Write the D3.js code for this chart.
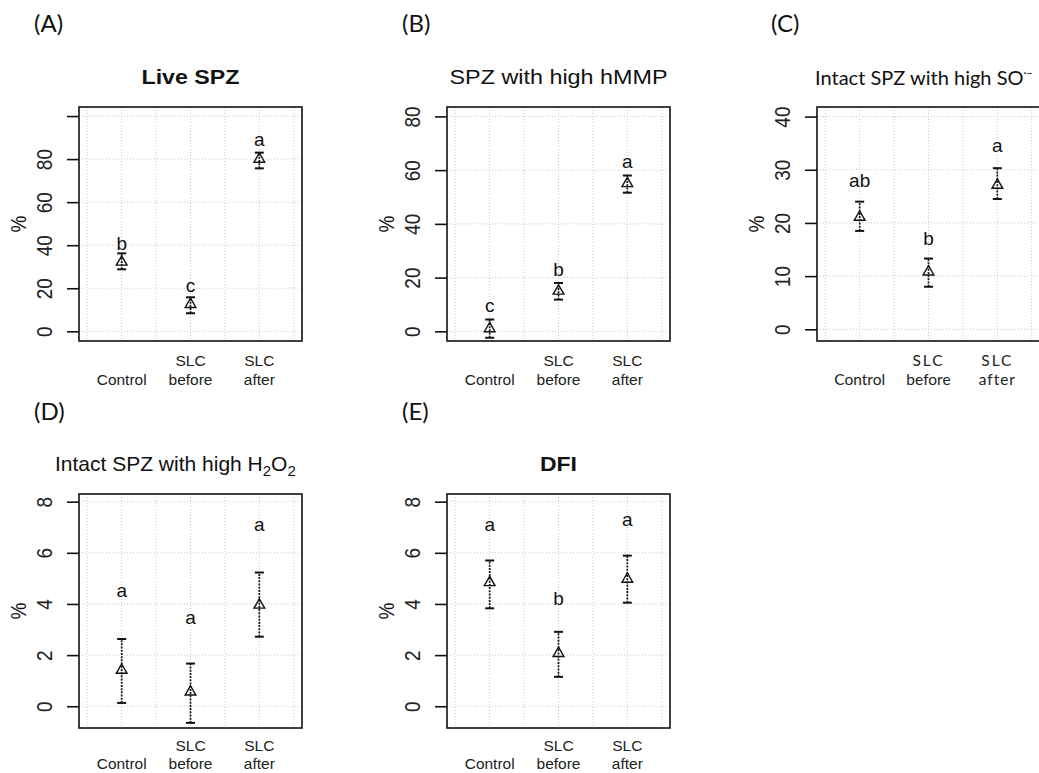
<!DOCTYPE html>
<html>
<head>
<meta charset="utf-8">
<script src="https://cdn.jsdelivr.net/npm/d3@7"></script>
<style>
  body { margin: 0; background: #fff; }
  svg { display: block; }
  text { fill: #111; }
</style>
</head>
<body>
<div id="chart"></div>
<script>
// Categories and x labels (two lines each)
const groups = ["Control", "SLC before", "SLC after"];
const groupLines = [["", "Control"], ["SLC", "before"], ["SLC", "after"]];

// (A) Live SPZ
const liveMean = [32.2, 12.5, 80];
const liveLow = [28.8, 8.4, 75.7];
const liveHigh = [36.2, 15.8, 83];
const liveLetters = ["b", "c", "a"];
const liveLetterY = [38, 18.3, 86];
const liveTicks = [0, 20, 40, 60, 80, 100];
const liveTickLabels = ["0", "20", "40", "60", "80", ""];

// (B) SPZ with high hMMP
const hmmpMean = [1.0, 15, 55];
const hmmpLow = [-2.4, 11.8, 51.6];
const hmmpHigh = [4.4, 18, 58];
const hmmpLetters = ["c", "b", "a"];
const hmmpLetterY = [7.2, 20.5, 60.7];
const hmmpTicks = [0, 20, 40, 60, 80];

// (C) Intact SPZ with high SO
const soMean = [21.1, 10.8, 27.1];
const soLow = [18.5, 8, 24.5];
const soHigh = [24, 13.3, 30.3];
const soLetters = ["ab", "b", "a"];
const soLetterY = [26.8, 15.8, 33.4];
const soTicks = [0, 10, 20, 30, 40];

// (D) Intact SPZ with high H2O2
const h2o2Mean = [1.41, 0.56, 3.96];
const h2o2Low = [0.13, -0.65, 2.72];
const h2o2High = [2.63, 1.67, 5.23];
const h2o2Letters = ["a", "a", "a"];
const h2o2LetterY = [4.28, 3.21, 6.86];
const h2o2Ticks = [0, 2, 4, 6, 8];

// (E) DFI
const dfiMean = [4.84, 2.07, 4.97];
const dfiLow = [3.83, 1.15, 4.05];
const dfiHigh = [5.7, 2.91, 5.89];
const dfiLetters = ["a", "b", "a"];
const dfiLetterY = [6.86, 3.95, 7.05];
const dfiTicks = [0, 2, 4, 6, 8];

const width = 1039, height = 773;
const boxW = 223, boxH = 234;
const sans = "Liberation Sans, Arial, sans-serif";
const gill = "Lato, Open Sans, sans-serif";

const panels = [
  { tag: "(A)", tagX: 34, tagY: 32, left: 79, top: 107, title: "Live SPZ", bold: true, titleLen: 98,
    mean: liveMean, low: liveLow, high: liveHigh, letters: liveLetters, letterY: liveLetterY,
    ticks: liveTicks, tickLabels: liveTickLabels, domain: [-4.5, 104.2] },
  { tag: "(B)", tagX: 402, tagY: 32, left: 447, top: 107, title: "SPZ with high hMMP", titleLen: 218,
    mean: hmmpMean, low: hmmpLow, high: hmmpHigh, letters: hmmpLetters, letterY: hmmpLetterY,
    ticks: hmmpTicks, domain: [-3.6, 83.5] },
  { tag: "(C)", tagX: 771, tagY: 32, left: 817, top: 107, title: "Intact SPZ with high SO", gill: true,
    mean: soMean, low: soLow, high: soHigh, letters: soLetters, letterY: soLetterY,
    ticks: soTicks, domain: [-2.2, 41.8] },
  { tag: "(D)", tagX: 34, tagY: 420, left: 79, top: 494, title: "h2o2", xlab: [23, 41],
    mean: h2o2Mean, low: h2o2Low, high: h2o2High, letters: h2o2Letters, letterY: h2o2LetterY,
    ticks: h2o2Ticks, domain: [-0.85, 8.3] },
  { tag: "(E)", tagX: 402, tagY: 420, left: 447, top: 494, title: "DFI", bold: true, titleLen: 37, xlab: [23, 41],
    mean: dfiMean, low: dfiLow, high: dfiHigh, letters: dfiLetters, letterY: dfiLetterY,
    ticks: dfiTicks, domain: [-0.85, 8.3] }
];

const svg = d3.select("#chart").append("svg")
  .attr("width", width)
  .attr("height", height);

const tri = d3.symbol().type(d3.symbolTriangle).size(50);

panels.forEach(p => {
  const g = svg.append("g");
  const x = d3.scaleLinear().domain([0.38, 3.62]).range([p.left, p.left + boxW]);
  const y = d3.scaleLinear().domain(p.domain).range([p.top + boxH, p.top]);
  const bottom = p.top + boxH;
  const xlab = p.xlab || [24.5, 44];

  // panel tag
  g.append("text")
    .attr("x", p.tagX).attr("y", p.tagY)
    .style("font-family", gill).style("font-size", "24px")
    .text(p.tag);

  // title
  const titleY = p.top - 23;
  if (p.title === "h2o2") {
    const t = g.append("text")
      .attr("x", 55).attr("y", titleY)
      .style("font-family", sans).style("font-size", "21px");
    t.append("tspan").text("Intact SPZ with high H");
    t.append("tspan").attr("dy", 5).style("font-size", "15px").text("2");
    t.append("tspan").attr("dy", -5).text("O");
    t.append("tspan").attr("dy", 5).style("font-size", "15px").text("2");
  } else if (p.gill) {
    const t = g.append("text")
      .attr("x", p.left - 2).attr("y", titleY + 1)
      .style("font-family", gill).style("font-size", "20px");
    t.append("tspan").text(p.title);
    t.append("tspan").attr("dy", -8).style("font-size", "11px").text("·−");
  } else {
    g.append("text")
      .attr("x", p.left + boxW / 2).attr("y", titleY)
      .attr("text-anchor", "middle")
      .attr("textLength", p.titleLen)
      .attr("lengthAdjust", "spacingAndGlyphs")
      .style("font-family", sans)
      .style("font-size", "20px")
      .style("font-weight", p.bold ? "bold" : "normal")
      .text(p.title);
  }

  // grid
  const gx = [0.5, 1, 1.5, 2, 2.5, 3, 3.5];
  g.selectAll(".gv").data(gx).enter().append("line")
    .attr("x1", d => x(d)).attr("x2", d => x(d))
    .attr("y1", p.top).attr("y2", bottom)
    .attr("stroke", "#c8c8c8").attr("stroke-width", 1).attr("stroke-dasharray", "1,2");
  g.selectAll(".gh").data(p.ticks).enter().append("line")
    .attr("x1", p.left).attr("x2", p.left + boxW)
    .attr("y1", d => y(d)).attr("y2", d => y(d))
    .attr("stroke", "#c8c8c8").attr("stroke-width", 1).attr("stroke-dasharray", "1,2");

  // y axis
  const labels = p.tickLabels || p.ticks.map(String);
  const yAxis = d3.axisLeft(y).tickValues(p.ticks).tickSize(12).tickPadding(0)
    .tickFormat((d, i) => labels[i]);
  const ya = g.append("g").attr("transform", `translate(${p.left},0)`).call(yAxis);
  ya.select(".domain").remove();
  ya.selectAll(".tick line").attr("stroke", "#111").attr("stroke-width", 1.6);
  ya.selectAll(".tick text")
    .attr("x", null).attr("dy", null)
    .attr("text-anchor", "middle")
    .attr("transform", "translate(-27,0) rotate(-90) scale(1,1.15)")
    .attr("y", 0)
    .style("font-family", sans).style("font-size", "19px").style("fill", "#222");

  // % label
  g.append("text")
    .attr("transform", `translate(${p.left - 53},${p.top + boxH / 2}) rotate(-90) scale(1,1.15)`)
    .attr("text-anchor", "middle")
    .style("font-family", sans).style("font-size", "19px")
    .text("%");

  // box
  g.append("rect")
    .attr("x", p.left).attr("y", p.top)
    .attr("width", boxW).attr("height", boxH)
    .attr("fill", "none").attr("stroke", "#111").attr("stroke-width", 1.6);

  // x labels
  groupLines.forEach((lines, i) => {
    lines.forEach((s, j) => {
      if (!s) return;
      g.append("text")
        .attr("x", x(i + 1)).attr("y", bottom + xlab[j])
        .attr("text-anchor", "middle")
        .style("font-family", p.gill ? gill : sans)
        .style("font-size", "15.5px")
        .style("letter-spacing", p.gill && s === "SLC" ? "2px" : (p.gill && s === "after" ? "1px" : "0px"))
        .style("fill", "#222")
        .text(s);
    });
  });

  // error bars
  const idx = d3.range(groups.length);
  g.selectAll(".eb").data(idx).enter().append("line")
    .attr("x1", i => x(i + 1)).attr("x2", i => x(i + 1))
    .attr("y1", i => y(p.low[i])).attr("y2", i => y(p.high[i]))
    .attr("stroke", "#111").attr("stroke-width", 1.7).attr("stroke-dasharray", "2,1.2");
  ["low", "high"].forEach(k => {
    g.selectAll(".cap" + k).data(idx).enter().append("line")
      .attr("x1", i => x(i + 1) - 4.5).attr("x2", i => x(i + 1) + 4.5)
      .attr("y1", i => y(p[k][i])).attr("y2", i => y(p[k][i]))
      .attr("stroke", "#111").attr("stroke-width", 2);
  });

  // means
  g.selectAll(".pt").data(idx).enter().append("path")
    .attr("d", tri)
    .attr("transform", i => `translate(${x(i + 1)},${y(p.mean[i])})`)
    .attr("fill", "none").attr("stroke", "#111").attr("stroke-width", 1.4);

  // letters
  g.selectAll(".lt").data(idx).enter().append("text")
    .attr("x", i => x(i + 1)).attr("y", i => y(p.letterY[i]))
    .attr("text-anchor", "middle")
    .style("font-family", sans).style("font-size", "19px")
    .text(i => p.letters[i]);
});
</script>
</body>
</html>
